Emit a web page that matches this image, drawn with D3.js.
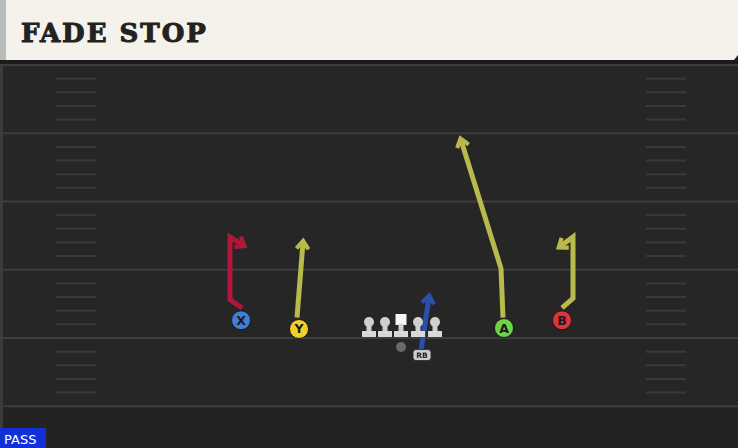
<!DOCTYPE html><html><head><script src="https://cdn.jsdelivr.net/npm/d3@7"></script>
<style>body{margin:0;background:#262626;overflow:hidden}</style></head><body><svg id="c" width="738" height="448"></svg>
<script>
const title="FADE STOP";
const yardLines=[-5,0,5,10,15,20];
const hashYards=[-4,-3,-2,-1,1,2,3,4,6,7,8,9,11,12,13,14,16,17,18,19];
const players=[{id:"X",x:241,y:1.3,c:"#3f7fd8"},{id:"Y",x:299,y:0.66,c:"#f2cf2a"},{id:"A",x:504,y:0.73,c:"#6fd443"},{id:"B",x:562,y:1.3,c:"#e0323f"}];
const linemenX=[369,385,401,418,435];
const routes=[
 {c:"#b1173a",pts:[[242,2.2],[230,2.8],[230,7.4],[243,6.8]]},
 {c:"#b9b94c",pts:[[297,1.5],[303,7.0]]},
 {c:"#b9b94c",pts:[[503,1.5],[501,5.1],[461,14.5]]},
 {c:"#b9b94c",pts:[[562,2.2],[573,2.9],[573,7.4],[560,6.7]]},
 {c:"#2b4fa8",pts:[[421,-0.9],[429,3.0]]}];
const svg=d3.select("#c");
const x=d3.scaleLinear().domain([0,738]).range([0,738]);
const y=d3.scaleLinear().domain([0,20]).range([338,65]);
svg.append("rect").attr("width",738).attr("height",448).attr("fill","#262626");
svg.append("rect").attr("y",y(-5)).attr("width",738).attr("height",448-y(-5)).attr("fill","#232323");
svg.append("rect").attr("width",3).attr("height",448).attr("fill","#3a3a3a");
svg.selectAll(".yl").data(yardLines).join("line").attr("x1",0).attr("x2",738).attr("y1",d=>y(d)).attr("y2",d=>y(d)).attr("stroke","#3d3d3d").attr("stroke-width",2);
[[56,96],[646,686]].forEach(([a,b])=>svg.selectAll(null).data(hashYards).join("line").attr("x1",x(a)).attr("x2",x(b)).attr("y1",d=>y(d)).attr("y2",d=>y(d)).attr("stroke","#3a3a3a").attr("stroke-width",2));
svg.append("rect").attr("y",58).attr("width",738).attr("height",6).attr("fill","#1b1b1b");
svg.append("path").attr("d","M0,0H738V55L734,60H0Z").attr("fill","#f5f2ec");
svg.append("rect").attr("width",6).attr("height",60).attr("fill","#b8bbb8");
svg.append("text").attr("x",21).attr("y",42).text(title).attr("font-family","DejaVu Serif").attr("font-weight","bold").attr("font-size",26).attr("letter-spacing",2).attr("fill","#222").attr("stroke","#222").attr("stroke-width",1);
const defs=svg.append("defs");
routes.forEach((r,i)=>defs.append("marker").attr("id","m"+i).attr("viewBox","0 0 10 10").attr("refX",6).attr("refY",5).attr("markerUnits","userSpaceOnUse").attr("markerWidth",16).attr("markerHeight",16).attr("orient","auto").append("path").attr("d","M3,2L7,5L3,8").attr("fill","none").attr("stroke",r.c).attr("stroke-width",2.6).attr("stroke-linecap","square"));
const line=d3.line().x(d=>x(d[0])).y(d=>y(d[1]));
routes.forEach((r,i)=>svg.append("path").attr("d",line(r.pts)).attr("fill","none").attr("stroke",r.c).attr("stroke-width",5).attr("stroke-linejoin","miter").attr("marker-end",`url(#m${i})`));
linemenX.forEach((lx,i)=>{const g=svg.append("g").attr("transform",`translate(${x(lx)},${y(0)})`);
 if(i==2){g.append("rect").attr("x",-5.5).attr("y",-24).attr("width",11).attr("height",11).attr("fill","#f5f5f5");}
 else{g.append("circle").attr("cy",-16).attr("r",5).attr("fill","#d0d0d0");}
 g.append("rect").attr("x",-2.5).attr("y",-14).attr("width",5).attr("height",9).attr("fill","#d0d0d0");
 g.append("rect").attr("x",-7).attr("y",-7).attr("width",14).attr("height",6).attr("fill","#d8d8d8");});
svg.append("circle").attr("cx",x(401)).attr("cy",y(-0.66)).attr("r",5).attr("fill","#6a6a6a");
const rb=svg.append("g").attr("transform",`translate(${x(422)},${y(-1.25)})`);
rb.append("rect").attr("x",-9).attr("y",-5.5).attr("width",18).attr("height",11).attr("rx",3).attr("fill","#cfcfcf").attr("stroke","#333");
rb.append("text").text("RB").attr("text-anchor","middle").attr("y",3).attr("font-size",7.5).attr("font-weight","bold").attr("font-family","DejaVu Sans").attr("fill","#222");
const pg=svg.selectAll(".p").data(players).join("g").attr("transform",d=>`translate(${x(d.x)},${y(d.y)})`);
pg.append("circle").attr("r",9.5).attr("fill",d=>d.c).attr("stroke","#1a1a1a").attr("stroke-width",1);
pg.append("text").text(d=>d.id).attr("text-anchor","middle").attr("y",4.5).attr("font-size",12.5).attr("font-weight","bold").attr("font-family","DejaVu Sans").attr("fill","#1a1a1a");
svg.append("rect").attr("y",428).attr("width",46).attr("height",20).attr("fill","#1230d8");
svg.append("text").attr("x",4).attr("y",444).text("PASS").attr("font-family","DejaVu Sans").attr("font-size",13).attr("fill","#fff");
</script></body></html>
